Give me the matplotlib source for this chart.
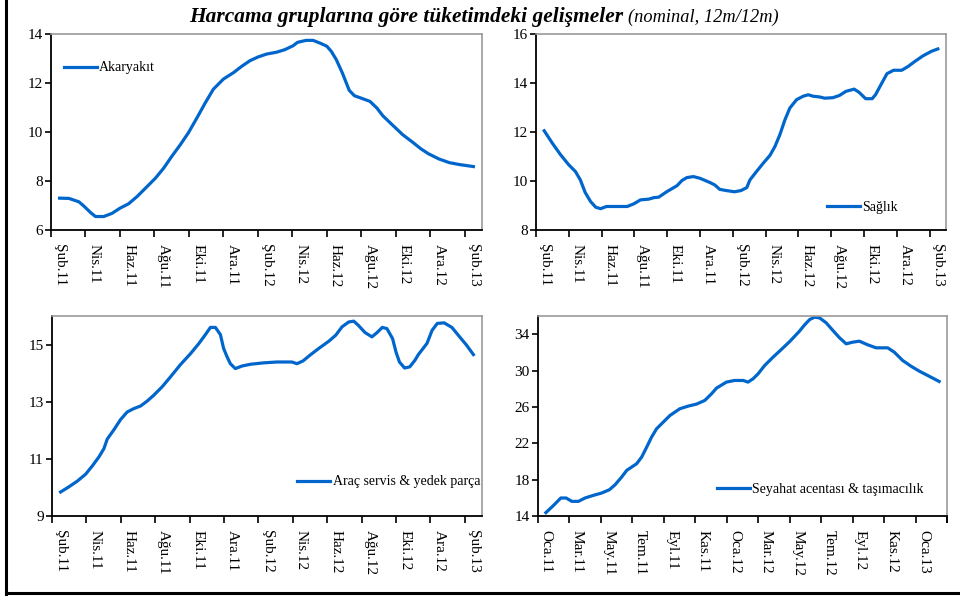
import numpy as np
import matplotlib
matplotlib.use("Agg")
import matplotlib.pyplot as plt
from matplotlib.lines import Line2D

plt.rcParams['font.family'] = ['Liberation Serif', 'DejaVu Serif']

# month index: 0 = first month shown on each axis
# Akaryakit (Sub.11 .. Sub.13)
fuel_x = [0, 0.54, 1.12, 1.4, 1.8, 2.08, 2.56, 3.04, 3.5, 4.0, 4.5, 5.07, 5.55, 6.03, 6.5, 7.0,
          7.48, 7.96, 8.44, 8.92, 9.5, 10.1, 10.56, 11.04, 11.5, 12.0, 12.6, 13.06, 13.54, 13.8,
          14.3, 14.7, 15.1, 15.5, 15.76, 16.05, 16.4, 16.8, 17.1, 17.5, 18.0, 18.4, 18.75, 19.3,
          19.9, 20.5, 20.96, 21.4, 22.0, 22.6, 23.2, 24.0]
fuel_y = [7.30, 7.29, 7.15, 6.98, 6.71, 6.55, 6.55, 6.68, 6.89, 7.07, 7.37, 7.77, 8.11, 8.52,
          9.00, 9.48, 9.98, 10.57, 11.18, 11.75, 12.16, 12.43, 12.68, 12.91, 13.06, 13.18, 13.26,
          13.36, 13.52, 13.66, 13.74, 13.74, 13.63, 13.50, 13.29, 12.95, 12.41, 11.70, 11.48,
          11.38, 11.25, 10.98, 10.66, 10.29, 9.89, 9.57, 9.31, 9.11, 8.90, 8.75, 8.67, 8.59]

# Saglik (Sub.11 .. Sub.13)
health_x = [0, 0.5, 1.0, 1.5, 1.9, 2.2, 2.5, 2.83, 3.14, 3.44, 3.8, 4.25, 5.06, 5.47, 5.87, 6.38,
            6.68, 6.98, 7.49, 8.1, 8.4, 8.7, 9.1, 9.5, 10.1, 10.4, 10.7, 11.1, 11.6, 12.0, 12.35,
            12.55, 12.95, 13.36, 13.77, 14.07, 14.37, 14.68, 14.98, 15.39, 15.79, 16.1, 16.4,
            16.8, 17.1, 17.6, 18.0, 18.4, 18.9, 19.2, 19.6, 20.0, 20.2, 20.5, 20.9, 21.3, 21.8,
            22.2, 22.6, 23.1, 23.6, 24.0]
health_y = [12.05, 11.54, 11.07, 10.66, 10.39, 10.05, 9.53, 9.16, 8.93, 8.87, 8.96, 8.96, 8.96,
            9.07, 9.23, 9.26, 9.32, 9.34, 9.57, 9.81, 10.02, 10.14, 10.18, 10.11, 9.94, 9.84,
            9.66, 9.61, 9.56, 9.61, 9.73, 10.05, 10.39, 10.73, 11.05, 11.41, 11.89, 12.50, 12.98,
            13.32, 13.46, 13.52, 13.46, 13.43, 13.38, 13.40, 13.49, 13.66, 13.75, 13.62, 13.36,
            13.36, 13.52, 13.89, 14.38, 14.52, 14.52, 14.68, 14.88, 15.11, 15.29, 15.39]

# Arac servis & yedek parca (Sub.11 .. Sub.13)
car_x = [0, 0.48, 0.97, 1.45, 1.84, 2.23, 2.52, 2.71, 3.1, 3.48, 3.87, 4.26, 4.65, 5.03, 5.42,
         5.9, 6.39, 6.97, 7.55, 8.03, 8.42, 8.71, 9.0, 9.29, 9.48, 9.68, 9.87, 10.16, 10.55,
         11.03, 11.8, 12.58, 13.45, 13.74, 14.1, 14.5, 15.0, 15.6, 16.0, 16.36, 16.75, 17.04,
         17.3, 17.7, 18.1, 18.4, 18.7, 18.97, 19.3, 19.5, 19.7, 20.0, 20.3, 20.6, 20.8, 21.3,
         21.6, 21.9, 22.3, 22.75, 23.2, 23.6, 24.0]
car_y = [9.84, 10.02, 10.22, 10.46, 10.75, 11.07, 11.36, 11.69, 12.02, 12.37, 12.64, 12.76,
         12.85, 13.02, 13.23, 13.52, 13.87, 14.30, 14.68, 15.03, 15.35, 15.60, 15.60, 15.35,
         14.86, 14.57, 14.33, 14.16, 14.25, 14.31, 14.36, 14.39, 14.39, 14.33, 14.43, 14.63,
         14.86, 15.12, 15.33, 15.62, 15.79, 15.82, 15.68, 15.42, 15.27, 15.42, 15.60, 15.56,
         15.21, 14.74, 14.39, 14.18, 14.22, 14.45, 14.65, 15.04, 15.50, 15.74, 15.76, 15.60,
         15.27, 14.98, 14.65]

# Seyahat acentasi & tasimacilik (Oca.11 .. Sub.13)
travel_x = [0, 0.49, 0.95, 1.29, 1.65, 2.07, 2.49, 3.02, 3.55, 4.04, 4.4, 4.82, 5.14, 5.77,
            6.09, 6.41, 6.72, 7.04, 7.36, 7.89, 8.52, 9.05, 9.58, 10.1, 10.53, 10.85, 11.48,
            12.0, 12.54, 12.85, 13.17, 13.49, 13.91, 14.44, 14.97, 15.5, 16.1, 16.45, 16.77,
            17.08, 17.4, 17.82, 18.25, 18.67, 19.09, 19.5, 19.93, 20.46, 20.99, 21.73, 22.15,
            22.68, 23.21, 23.74, 24.27, 25.0]
travel_y = [14.37, 15.17, 15.98, 15.98, 15.61, 15.61, 15.98, 16.27, 16.53, 16.89, 17.44, 18.29,
            19.02, 19.75, 20.48, 21.58, 22.68, 23.60, 24.15, 25.06, 25.80, 26.09, 26.31, 26.71,
            27.44, 28.07, 28.73, 28.91, 28.91, 28.73, 29.09, 29.64, 30.56, 31.47, 32.32, 33.19,
            34.29, 35.03, 35.61, 35.87, 35.79, 35.25, 34.40, 33.60, 32.94, 33.12, 33.23, 32.83,
            32.50, 32.50, 32.02, 31.11, 30.48, 29.93, 29.46, 28.80]

labels_sub = ['Şub.11', 'Nis.11', 'Haz.11', 'Ağu.11', 'Eki.11', 'Ara.11', 'Şub.12', 'Nis.12',
              'Haz.12', 'Ağu.12', 'Eki.12', 'Ara.12', 'Şub.13']
labels_oca = ['Oca.11', 'Mar.11', 'May.11', 'Tem.11', 'Eyl.11', 'Kas.11', 'Oca.12', 'Mar.12',
              'May.12', 'Tem.12', 'Eyl.12', 'Kas.12', 'Oca.13']

blue = '#0066CC'

fig = plt.figure(figsize=(9.6, 5.96), dpi=100)
W, H = 960, 596


def make_ax(l, t, r, b):
    return fig.add_axes([l / W, 1 - b / H, (r - l) / W, (b - t) / H])


def style(ax, n_months, labels, ylim, yticks):
    ax.set_xlim(-0.5, n_months - 0.5)
    ax.set_ylim(*ylim)
    ax.set_yticks(yticks)
    major = np.arange(-0.5, n_months, 2)
    if n_months % 2 == 0:
        major = np.append(major, n_months - 0.5)
    ax.set_xticks(major)
    ax.set_xticklabels([])
    ax.set_xticks(np.arange(0, 2 * len(labels), 2), minor=True)
    ax.set_xticklabels(labels, minor=True, rotation=-90, fontsize=11)
    ax.tick_params(axis='x', which='major', direction='out', length=5, width=1.2, color='black')
    ax.tick_params(axis='x', which='minor', length=0, pad=10)
    ax.tick_params(axis='y', direction='out', length=4, width=1.2, labelsize=11, pad=2)
    for s in ['top', 'right']:
        ax.spines[s].set_color('#999999')
        ax.spines[s].set_linewidth(1.2)
    for s in ['left', 'bottom']:
        ax.spines[s].set_color('black')
        ax.spines[s].set_linewidth(1.3)


def legend(ax, label, x, y):
    ax.legend([label], loc='center left', bbox_to_anchor=(x, y), frameon=False,
              borderpad=0, borderaxespad=0, handlelength=2.35, handletextpad=0.2,
              fontsize=10)


ax1 = make_ax(51, 34, 482, 230)
ax1.plot(fuel_x, fuel_y, color=blue, lw=2.3)
style(ax1, 25, labels_sub, (6, 14), [6, 8, 10, 12, 14])
legend(ax1, 'Akaryakıt', 0.03, 0.827)

ax2 = make_ax(536, 34, 946, 230)
ax2.plot(health_x, health_y, color=blue, lw=2.3)
style(ax2, 25, labels_sub, (8, 16), [8, 10, 12, 14, 16])
legend(ax2, 'Sağlık', 0.71, 0.117)

ax3 = make_ax(52, 316, 482, 516)
ax3.plot(car_x, car_y, color=blue, lw=2.3)
style(ax3, 25, labels_sub, (9, 16), [9, 11, 13, 15])
legend(ax3, 'Araç servis & yedek parça', 0.57, 0.17)

ax4 = make_ax(538, 316, 947, 516)
ax4.plot(travel_x, travel_y, color=blue, lw=2.3)
style(ax4, 26, labels_oca, (14, 36), [14, 18, 22, 26, 30, 34])
legend(ax4, 'Seyahat acentası & taşımacılık', 0.4377, 0.135)

# title in two styles
fig.text(189 / W, 1 - 22 / H, 'Harcama gruplarına göre tüketimdeki gelişmeler',
         fontsize=15.4, fontweight='bold', fontstyle='italic', ha='left', va='baseline')
fig.text(628 / W, 1 - 22 / H, '(nominal, 12m/12m)', fontsize=13.2, fontstyle='italic',
         ha='left', va='baseline')

# outer frame (left and bottom)
fig.add_artist(Line2D([5.5 / W, 5.5 / W], [0, 1], transform=fig.transFigure, color='black', lw=2.2))
fig.add_artist(Line2D([5.5 / W, 1], [1 - 592.5 / H, 1 - 592.5 / H], transform=fig.transFigure,
                      color='black', lw=2.2))

fig.savefig('out.png', dpi=100)
